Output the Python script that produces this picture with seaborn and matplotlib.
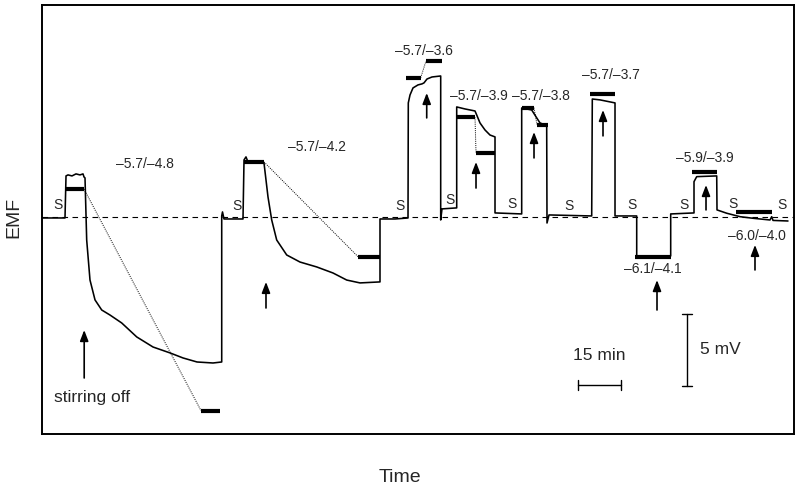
import numpy as np
import pandas as pd
import matplotlib
matplotlib.use("Agg")
import matplotlib.pyplot as plt
import seaborn as sns

# EMF trace (time in min, EMF in mV relative to the stirred baseline)
trace_t = [0.0, 7.93, 8.28, 8.97, 10.34, 11.72, 13.10, 14.14, 14.48, 14.83, 15.41, 16.55,
           18.28, 20.59, 23.45, 27.48, 32.66, 38.28, 44.14, 48.62, 53.45, 58.97, 61.97,
           61.97, 62.24, 62.76, 69.31, 69.66, 70.34, 71.03, 76.55, 77.93, 79.21, 80.93,
           84.38, 88.97, 94.72, 100.34, 105.07, 109.66, 116.55, 116.55, 121.72, 126.21,
           126.31, 126.90, 127.93, 129.66, 131.03, 131.72, 132.76, 134.48, 137.48,
           137.48, 137.93, 143.00, 143.00, 145.86, 149.31, 149.90, 151.03, 152.76,
           154.48, 156.21, 156.21, 165.41, 165.41, 168.86, 170.59, 171.72, 174.03,
           174.14, 174.83, 189.55, 189.76, 192.41, 197.59, 197.59, 205.07, 205.07,
           216.79, 216.79, 224.83, 224.83, 225.76, 232.66, 232.76, 236.10, 240.69,
           245.17, 251.03, 251.62, 252.07, 257.24]
trace_v = [-0.07, -0.07, 2.85, 2.92, 2.85, 2.99, 2.92, 2.99, 2.78, 2.71, -1.60, -4.38,
           -5.76, -6.46, -6.81, -7.36, -8.33, -9.03, -9.44, -9.79, -10.07, -10.14, -10.07,
           0.07, 0.35, -0.14, -0.14, 3.96, 4.17, 3.82, 3.75, 1.39, -0.21, -1.60,
           -2.64, -3.13, -3.47, -3.89, -4.38, -4.58, -4.51, -0.14, -0.14, -0.07,
           7.92, 8.47, 8.96, 9.17, 9.24, 9.31, 9.58, 9.72, 9.79,
           -0.21, 0.56, 0.63, 7.64, 7.50, 7.36, 7.08, 6.53, 6.04,
           5.69, 5.56, 0.28, 0.21, 7.57, 7.43, 6.88, 6.53, 6.34,
           -0.42, 0.14, 0.07, 8.19, 8.13, 7.92, 0.07, 0.07, -2.76,
           -2.71, 0.21, 0.28, 2.45, 2.80, 2.85, 0.49, 0.26, 0.02,
           -0.09, -0.21, 0.02, -0.24, -0.28]

# calculated levels (thick bars): start, end, level
level_t0 = [8.28, 54.83, 69.66, 108.97, 125.52, 132.41, 142.76, 149.66, 165.41, 170.69,
            188.97, 224.03, 239.31, 204.48]
level_t1 = [14.48, 61.38, 76.55, 116.55, 130.59, 137.83, 149.31, 156.21, 169.66, 174.38,
            197.59, 232.86, 251.62, 216.79]
level_v = [1.94, -13.45, 3.82, -2.76, 9.67, 10.83, 6.92, 4.47, 7.59, 6.39,
           8.54, 3.10, 0.35, -2.76]
# dotted connectors between paired levels (index pairs)
pairs = [(0, 1), (2, 3), (4, 5), (6, 7), (8, 9)]

# arrows: time, tail, tip
arrow_t = [14.55, 77.24, 132.66, 149.66, 169.66, 193.45, 228.97, 245.86, 212.07]
arrow_v0 = [-11.18, -6.32, 6.88, 2.01, 4.10, 5.63, 0.49, -3.68, -6.46]
arrow_v1 = [-7.85, -4.51, 8.61, 3.82, 5.90, 7.43, 2.22, -1.94, -4.38]

# pH labels
labels = ["\u20135.7/\u20134.8", "\u20135.7/\u20134.2", "\u20135.7/\u20133.6", "\u20135.7/\u20133.9",
          "\u20135.7/\u20133.8", "\u20135.7/\u20133.7", "\u20135.9/\u20133.9", "\u20136.0/\u20134.0",
          "\u20136.1/\u20134.1"]
label_t = [35.34, 94.83, 131.72, 150.69, 172.07, 196.21, 228.62, 246.45, 210.79]
label_v = [3.68, 4.86, 11.53, 8.42, 8.42, 9.86, 4.08, -1.32, -3.63]

# "S" (stirring) marks
s_t = [5.52, 67.14, 123.45, 140.69, 161.97, 181.72, 203.45, 221.38, 238.17, 255.07]
s_v = [0.83, 0.76, 0.78, 1.18, 0.90, 0.78, 0.83, 0.83, 0.90, 0.83]

sns.set_style("white")
plt.rcParams["font.family"] = ["Liberation Sans", "DejaVu Sans"]

fig = plt.figure(figsize=(8, 4.93), dpi=100)
ax = fig.add_axes([0.0525, 0.1197, 0.94, 0.8702])

ax.axhline(0, color="black", lw=0.8, ls=(0, (5, 4)), zorder=1)

df = pd.DataFrame({"t": trace_t, "v": trace_v})
sns.lineplot(data=df, x="t", y="v", sort=False, estimator=None, color="black", lw=1.15, ax=ax)

for a, b in pairs:
    ax.plot([level_t1[a], level_t0[b]], [level_v[a], level_v[b]], color="black",
            lw=0.7, ls=(0, (1, 1.2)))
ax.hlines(level_v, level_t0, level_t1, color="black", lw=3.0, zorder=3)

for t, v0, v1 in zip(arrow_t, arrow_v0, arrow_v1):
    ax.annotate("", xy=(t, v1), xytext=(t, v0),
                arrowprops=dict(arrowstyle="-|>,head_length=0.65,head_width=0.25",
                                color="black", lw=1.2, shrinkA=0, shrinkB=0))

for txt, t, v in zip(labels, label_t, label_v):
    ax.text(t, v, txt, ha="center", va="center", fontsize=10)
for t, v in zip(s_t, s_v):
    ax.text(t, v, "S", ha="center", va="center", fontsize=10)

ax.text(17.24, -12.57, "stirring off", ha="center", va="center", fontsize=12.5)

# scale bars
ax.plot([184.7, 199.7], [-11.67, -11.67], color="black", lw=1.0)
ax.plot([184.7, 184.7], [-11.3, -12.04], color="black", lw=1.0)
ax.plot([199.7, 199.7], [-11.3, -12.04], color="black", lw=1.0)
ax.text(192.2, -9.65, "15 min", ha="center", va="center", fontsize=12.5)
ax.plot([222.3, 222.3], [-6.72, -11.72], color="black", lw=1.0)
ax.plot([220.6, 224.0], [-6.72, -6.72], color="black", lw=1.0)
ax.plot([220.6, 224.0], [-11.72, -11.72], color="black", lw=1.0)
ax.text(226.9, -9.17, "5 mV", ha="left", va="center", fontsize=12.5)

ax.set_xlim(0, 259.31)
ax.set_ylim(-15.07, 14.72)
ax.set_xticks([])
ax.set_yticks([])
ax.set_xlabel("")
ax.set_ylabel("")
for sp in ax.spines.values():
    sp.set_color("black")
    sp.set_linewidth(1.4)

fig.text(0.5, 1 - 478 / 493, "Time", ha="center", va="center", fontsize=14)
fig.text(14 / 800, 1 - 217 / 493, "EMF", ha="center", va="center", rotation=90, fontsize=14)

fig.savefig("out.png", dpi=100)
